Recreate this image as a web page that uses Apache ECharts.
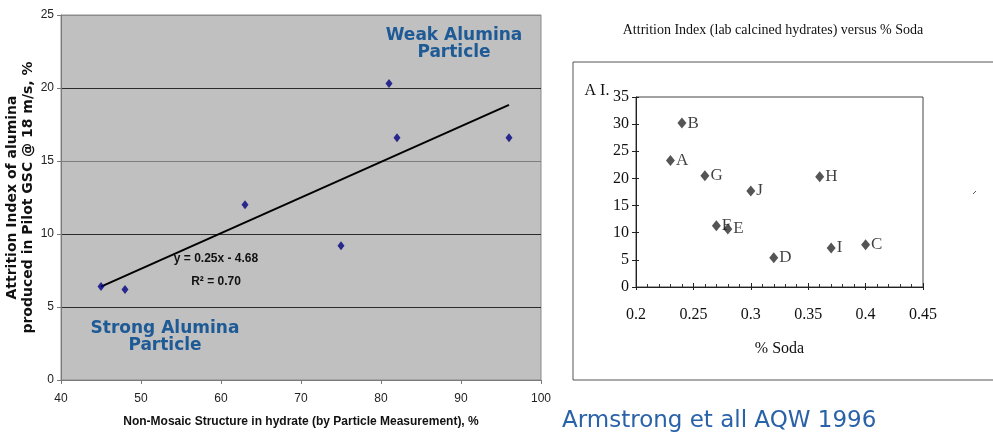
<!DOCTYPE html>
<html><head><meta charset="utf-8">
<script src="https://cdn.jsdelivr.net/npm/echarts@6/dist/echarts.min.js"></script>
<style>html,body{margin:0;padding:0;background:#fff}#c{width:993px;height:436px}</style>
</head><body><div id="c"></div>
<script>
// Left chart: Non-mosaic structure vs attrition index
const mosaicX = [45, 48, 63, 75, 81, 82, 96];
const attritionY = [6.4, 6.2, 12.0, 9.2, 20.3, 16.6, 16.6];
const trendX = [45, 96];
const trendY = [6.4, 18.85];
const leftXTicks = [40, 50, 60, 70, 80, 90, 100];
const leftYTicks = [0, 5, 10, 15, 20, 25];

// Right chart: % soda vs A.I.
const sodaLabels = ['A', 'B', 'G', 'F', 'E', 'J', 'D', 'H', 'I', 'C'];
const sodaX = [0.23, 0.24, 0.26, 0.27, 0.28, 0.30, 0.32, 0.36, 0.37, 0.40];
const aiY = [23.3, 30.2, 20.5, 11.3, 10.7, 17.7, 5.4, 20.3, 7.2, 7.8];
const rightXTicks = [0.2, 0.25, 0.3, 0.35, 0.4, 0.45];
const rightYTicks = [0, 5, 10, 15, 20, 25, 30, 35];

const narrow = '"Liberation Sans", Arial, sans-serif';
const wide = '"DejaVu Sans", Verdana, sans-serif';
const serif = '"Liberation Serif", "DejaVu Serif", serif';

const chart = echarts.init(document.getElementById('c'), null, {renderer: 'canvas'});
const option = {
  animation: false,
  title: [
    {text: 'Attrition Index (lab calcined hydrates) versus % Soda', left: 773, top: 23, textAlign: 'center', padding: 0,
     textStyle: {fontFamily: serif, fontSize: 14, fontWeight: 'normal', color: '#111'}},
    {text: 'Armstrong et all AQW 1996', left: 562, top: 410, padding: 0,
     textStyle: {fontFamily: wide, fontSize: 23, fontWeight: 'normal', color: '#2a62a8'}}
  ],
  grid: [
    {left: 61, top: 15, width: 480, height: 365, show: true, backgroundColor: '#c0c0c0', borderColor: '#8c8c8c', borderWidth: 1},
    {left: 636, top: 97, width: 287, height: 190, show: true, backgroundColor: 'transparent', borderColor: '#444', borderWidth: 1}
  ],
  xAxis: [
    {gridIndex: 0, type: 'value', position: 'bottom', min: leftXTicks[0], max: leftXTicks[leftXTicks.length - 1], interval: leftXTicks[1] - leftXTicks[0],
     splitLine: {show: false},
     axisLine: {lineStyle: {color: '#7a7a7a'}},
     axisTick: {show: true, length: 4, lineStyle: {color: '#7a7a7a'}},
     axisLabel: {margin: 13, fontFamily: narrow, fontSize: 12, color: '#222'},
     name: 'Non-Mosaic Structure in hydrate (by Particle Measurement), %', nameLocation: 'middle', nameGap: 36,
     nameTextStyle: {fontFamily: narrow, fontSize: 12, fontWeight: 'bold', color: '#111'}},
    {gridIndex: 1, type: 'value', position: 'bottom', min: rightXTicks[0], max: rightXTicks[rightXTicks.length - 1], interval: 0.05,
     splitLine: {show: false},
     axisLine: {lineStyle: {color: '#222'}},
     axisTick: {show: true, inside: true, length: 4, lineStyle: {color: '#222'}},
     minorTick: {show: true, splitNumber: 5, length: 3, lineStyle: {color: '#333'}},
     axisLabel: {margin: 20, fontFamily: serif, fontSize: 16, color: '#111', formatter: v => String(+v.toFixed(2))},
     name: '% Soda', nameLocation: 'middle', nameGap: 54,
     nameTextStyle: {fontFamily: serif, fontSize: 16, color: '#111'}},
    {gridIndex: 1, type: 'value', position: 'bottom', min: rightXTicks[0], max: rightXTicks[rightXTicks.length - 1], interval: 0.05,
     splitLine: {show: false}, axisLine: {show: false}, axisLabel: {show: false},
     axisTick: {show: true, length: 3, lineStyle: {color: '#222'}}}
  ],
  yAxis: [
    {gridIndex: 0, type: 'value', position: 'left', min: leftYTicks[0], max: leftYTicks[leftYTicks.length - 1], interval: leftYTicks[1] - leftYTicks[0],
     axisLine: {show: true, lineStyle: {color: '#7a7a7a'}},
     axisTick: {show: true, length: 4, lineStyle: {color: '#7a7a7a'}},
     splitLine: {show: true, lineStyle: {width: 1, color: ['#7a7a7a', '#2b2b2b', '#2b2b2b', '#7d7d7d', '#2b2b2b', '#8c8c8c']}},
     axisLabel: {margin: 7, fontFamily: narrow, fontSize: 12, color: '#222'},
     name: 'Attrition Index of alumina\nproduced in Pilot GSC @ 18 m/s, %', nameLocation: 'middle', nameGap: 20, nameRotate: 90,
     nameTextStyle: {fontFamily: wide, fontSize: 14, fontWeight: 'bold', color: '#111', lineHeight: 16}},
    {gridIndex: 1, type: 'value', position: 'left', min: rightYTicks[0], max: rightYTicks[rightYTicks.length - 1], interval: 5,
     axisLine: {show: true, lineStyle: {color: '#222'}},
     axisTick: {show: true, length: 4, lineStyle: {color: '#222'}},
     splitLine: {show: false},
     axisLabel: {margin: 7, fontFamily: serif, fontSize: 16, color: '#111'}},
    {gridIndex: 1, type: 'value', position: 'left', min: rightYTicks[0], max: rightYTicks[rightYTicks.length - 1], interval: 5,
     axisLine: {show: false}, splitLine: {show: false}, axisLabel: {show: false},
     axisTick: {show: true, inside: true, length: 3, lineStyle: {color: '#222'}}}
  ],
  series: [
    {type: 'line', xAxisIndex: 0, yAxisIndex: 0, data: trendX.map((x, i) => [x, trendY[i]]),
     showSymbol: false, lineStyle: {color: '#000', width: 2}, z: 3, silent: true},
    {type: 'scatter', xAxisIndex: 0, yAxisIndex: 0, data: mosaicX.map((x, i) => [x, attritionY[i]]),
     symbol: 'diamond', symbolSize: [7, 9], itemStyle: {color: '#000080'}, z: 4},
    {type: 'scatter', xAxisIndex: 1, yAxisIndex: 1, data: sodaX.map((x, i) => ({value: [x, aiY[i]], name: sodaLabels[i]})),
     symbol: 'diamond', symbolSize: [9, 11], itemStyle: {color: '#2a2a2a'},
     label: {show: true, position: 'right', distance: 1, formatter: p => p.name, fontFamily: serif, fontSize: 17, color: '#111'}, z: 4}
  ],
  graphic: [
    {type: 'text', style: {text: 'Weak Alumina\nParticle', align: 'center', verticalAlign: 'middle', font: 'bold 17px ' + wide, fill: '#1d5a96', lineHeight: 17}, position: [454, 44]},
    {type: 'text', style: {text: 'Strong Alumina\nParticle', align: 'center', verticalAlign: 'middle', font: 'bold 17px ' + wide, fill: '#1d5a96', lineHeight: 17}, position: [165, 337]},
    {type: 'text', style: {text: 'y = 0.25x - 4.68', align: 'center', verticalAlign: 'middle', font: 'bold 12px ' + narrow, fill: '#111'}, position: [216, 259]},
    {type: 'text', style: {text: 'R² = 0.70', align: 'center', verticalAlign: 'middle', font: 'bold 12px ' + narrow, fill: '#111'}, position: [216, 282]},
    {type: 'text', style: {text: 'A I.', align: 'center', verticalAlign: 'middle', font: '16px ' + serif, fill: '#111'}, position: [597, 91]},
    {type: 'rect', shape: {x: 573, y: 62, width: 440, height: 318}, style: {fill: 'none', stroke: '#555', lineWidth: 1}, silent: true},
    {type: 'line', shape: {x1: 973, y1: 194, x2: 976, y2: 191}, style: {stroke: '#555', lineWidth: 1}, silent: true}
  ]
};
chart.setOption(option);
</script>
</body></html>
